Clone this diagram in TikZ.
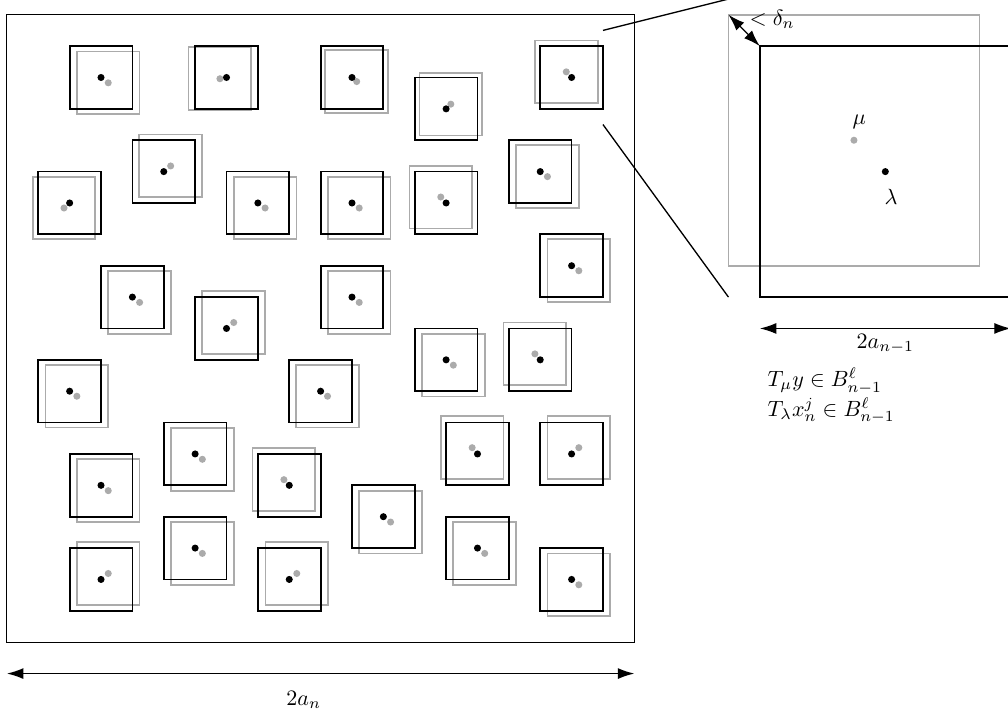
\documentclass[tikz,border=0pt]{standalone}
\usetikzlibrary{arrows.meta}
\definecolor{lgray}{gray}{0.67}
\begin{document}
\begin{tikzpicture}[x=0.5cm,y=0.5cm,
  bigbox/.style={draw=black, line width=0.5pt, minimum size=10cm, inner sep=0pt, outer sep=0pt},
  blk/.style={draw=black, thick, minimum size=1cm, inner sep=0pt, outer sep=0pt},
  gry/.style={draw=lgray, thick, minimum size=1cm, inner sep=0pt, outer sep=0pt},
  bdot/.style={fill=black, circle, inner sep=0pt, minimum size=3.2pt},
  gdot/.style={fill=lgray, circle, inner sep=0pt, minimum size=3.2pt},
  dimline/.style={semithick, {Latex[length=7.5pt,width=5pt]}-{Latex[length=7.5pt,width=5pt]}},
  zoomline/.style={semithick},
  eqtext/.style={anchor=west, inner xsep=3.3pt, inner ysep=0pt}]
\clip (-0.22,-2.33) rectangle (31.91,20.47);
\node[bigbox] (big) at (10,10) {};
\foreach \x/\y/\dx/\dy [count=\i] in {
  3/18/0.23/-0.17, 7/18/-0.21/-0.04, 5/15/0.22/0.18, 2/14/-0.18/-0.16,
  8/14/0.23/-0.16, 11/18/0.15/-0.13, 14/17/0.15/0.15, 18/18/-0.17/0.18,
  11/14/0.23/-0.16, 14/14/-0.17/0.19, 17/15/0.23/-0.16, 4/11/0.23/-0.17,
  7/10/0.23/0.19, 2/8/0.23/-0.16, 18/12/0.23/-0.16, 11/11/0.23/-0.17,
  10/8/0.22/-0.16, 14/9/0.23/-0.17, 17/9/-0.17/0.19, 6/6/0.23/-0.17,
  3/5/0.23/-0.17, 9/5/-0.17/0.18, 6/3/0.23/-0.17, 3/2/0.23/0.19,
  9/2/0.24/0.19, 15/6/-0.17/0.2, 18/6/0.23/0.2, 12/4/0.23/-0.17,
  15/3/0.23/-0.17, 18/2/0.23/-0.17}{
  \node[gry] (g\i) at ([shift={(\dx,\dy)}]\x,\y) {};
  \node[blk] (b\i) at (\x,\y) {};
  \node[gdot] (gd\i) at (g\i.center) {};
  \node[bdot] (bd\i) at (b\i.center) {};
}
% zoomed view
\node[gry, minimum size=4cm] (G) at (27,16) {};
\node[blk, minimum size=4cm] (B) at (28,15) {};
\node[gdot] (mu) at (27,16) {};
\node[bdot] (la) at (28,15) {};
\node (mulab) at (27.17,16.59) {$\mu$};
\node (lalab) at (28.18,14.2) {$\lambda$};
\draw[dimline] (G.north west) -- (B.north west);
\node (dlab) at (24.39,19.86) {$<\delta_n$};
% zoom lines
\coordinate (za) at (19,19.5);
\coordinate (zb) at (23,20.5);
\coordinate (zc) at (19,16.5);
\coordinate (zd) at (23,11);
\draw[zoomline] (za) -- (zb);
\draw[zoomline] (zc) -- (zd);
% dimensions
\coordinate (d1) at (0,-1);
\coordinate (d2) at (20,-1);
\draw[dimline] (d1) -- (d2);
\node (an) at (9.46,-1.85) {$2a_n$};
\coordinate (e1) at (24,10);
\coordinate (e2) at (32,10);
\draw[dimline] (e1) -- (e2);
\node (an1) at (28,9.52) {$2a_{n-1}$};
\node[eqtext] (txt1) at (24,8.33) {$T_\mu y\in B^\ell_{n-1}$};
\node[eqtext] (txt2) at (24,7.38) {$T_\lambda x^j_n\in B^\ell_{n-1}$};
\end{tikzpicture}
\end{document}
